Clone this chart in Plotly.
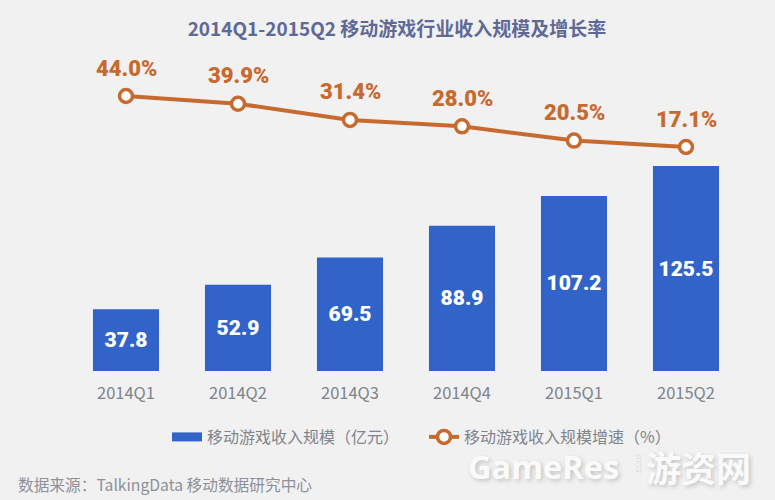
import plotly.graph_objects as go

W, H = 775, 500
# plot area in page pixels
LEFT, RIGHT, TOP, BOTTOM = 70, 742, 50, 371

quarters = ["2014Q1", "2014Q2", "2014Q3", "2014Q4", "2015Q1", "2015Q2"]
revenue = [37.8, 52.9, 69.5, 88.9, 107.2, 125.5]
growth = [44.0, 39.9, 31.4, 28.0, 20.5, 17.1]

BLUE = "#3163c9"
ORANGE = "#c76a30"
BG = "#f1f1f1"
CJK = "Noto Sans CJK SC"
HEAVY = "Roboto"


def xp(x):
    return (x - LEFT) / (RIGHT - LEFT)


def yp(y):
    return (BOTTOM - y) / (BOTTOM - TOP)


fig = go.Figure()

#bars, the legend swatch comes from the dummy line below
fig.add_trace(go.Bar(
    x=quarters, y=revenue,
    text=["%.1f" % v for v in revenue],
    textposition="inside", insidetextanchor="middle", textangle=0,
    textfont=dict(family=HEAVY, size=21, color="white", weight=900),
    marker=dict(color=BLUE, line=dict(width=0)),
    width=0.59, showlegend=False, hoverinfo="x+y"))

fig.add_trace(go.Scatter(
    x=[None], y=[None], mode="lines",
    name="移动游戏收入规模（亿元）",
    line=dict(color=BLUE, width=9)))

#growth line
fig.add_trace(go.Scatter(
    x=quarters, y=growth, yaxis="y2", mode="lines+markers",
    name="移动游戏收入规模增速（%）",
    line=dict(color=ORANGE, width=4),
    marker=dict(size=13, color="white", line=dict(color=ORANGE, width=3.5))))

annotations = []
for q, g in zip(quarters, growth):
    annotations.append(dict(
        x=q, y=g, xref="x", yref="y2", yshift=28, showarrow=False,
        text="%.1f%%" % g,
        font=dict(family=HEAVY, size=22, color=ORANGE, weight=900)))

annotations.append(dict(
    x=xp(16), y=yp(484), xref="paper", yref="paper", xanchor="left", yanchor="middle",
    showarrow=False, text="数据来源：TalkingData 移动数据研究中心",
    font=dict(family=CJK, size=15.7, color="#8c9099")))

#watermark
annotations.append(dict(
    x=xp(466), y=yp(466), xref="paper", yref="paper", xanchor="left", yanchor="middle",
    showarrow=False, text="GameRes",
    font=dict(family="Open Sans", size=32.5, color="#fafafa", weight="bold",
              shadow="2px 2px 4px #c4c4c4")))
annotations.append(dict(
    x=xp(636), y=yp(466), xref="paper", yref="paper", xanchor="center", yanchor="middle",
    showarrow=False, text=".com", textangle=-90,
    font=dict(family="Open Sans", size=9, color="#fafafa",
              shadow="1px 1px 2px #c4c4c4")))
annotations.append(dict(
    x=xp(644), y=yp(466), xref="paper", yref="paper", xanchor="left", yanchor="middle",
    showarrow=False, text="游资网",
    font=dict(family=CJK, size=35, color="#fafafa", weight="bold",
              shadow="2px 2px 4px #c4c4c4")))

fig.update_layout(
    width=W, height=H,
    autosize=False,
    paper_bgcolor=BG, plot_bgcolor=BG,
    margin=dict(l=LEFT, r=W - RIGHT, t=TOP, b=H - BOTTOM, pad=0),
    font=dict(family=CJK, color="#80848c"),
    title=dict(
        text="<b>2014Q1-2015Q2 移动游戏行业收入规模及增长率</b>",
        x=397 / W, y=1 - 29 / H, xanchor="center", yanchor="middle",
        font=dict(family=CJK, size=19, color="#5f6997")),
    xaxis=dict(
        type="category", categoryorder="array", categoryarray=quarters,
        range=[-0.5, 5.5], showgrid=False, showline=False, zeroline=False,
        ticks="", ticklabelstandoff=10,
        tickfont=dict(family=CJK, size=16.5, color="#80848c")),
    yaxis=dict(range=[0, 196.6], visible=False, fixedrange=True),
    yaxis2=dict(range=[-101.04, 68.26], visible=False, overlaying="y", fixedrange=True),
    legend=dict(
        orientation="h", xref="container", yref="container",
        x=167 / W, y=1 - 437 / H, xanchor="left", yanchor="middle",
        bgcolor="rgba(0,0,0,0)", itemwidth=30, entrywidth=212, entrywidthmode="pixels",
        font=dict(family=CJK, size=16, color="#80848c")),
    annotations=annotations,
)

# the default page keeps the 8px body margin
fig.write_html("out.html", config=dict(displayModeBar=False),
               post_script="document.body.style.margin='0';document.body.style.overflow='hidden';")
